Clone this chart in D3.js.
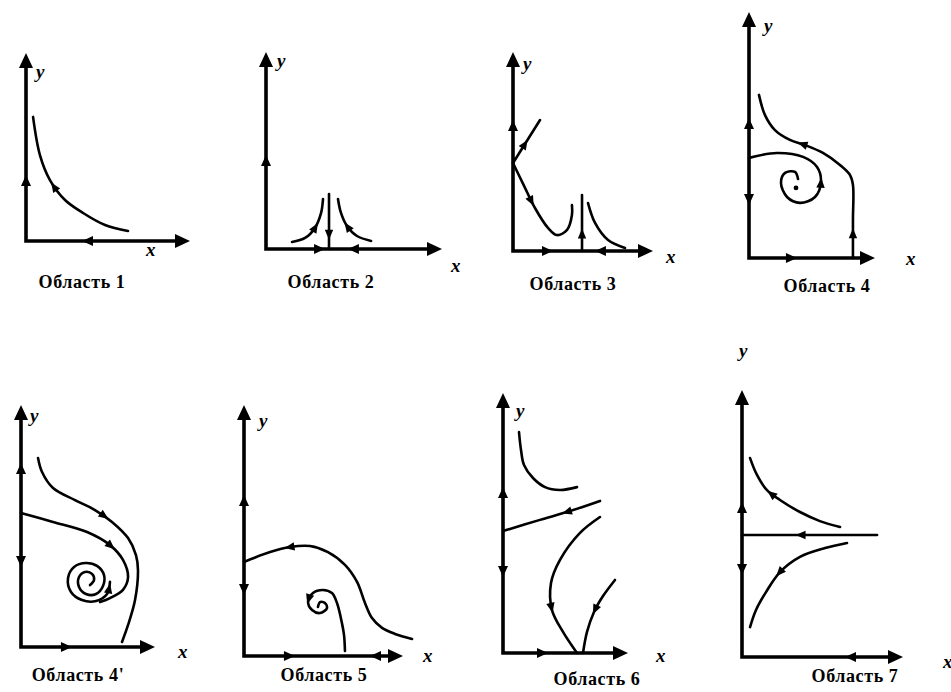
<!DOCTYPE html>
<html>
<head>
<meta charset="utf-8">
<script src="https://cdn.jsdelivr.net/npm/d3@7"></script>
<style>
  body { margin: 0; background: #fff; }
</style>
</head>
<body>
<div id="chart"></div>
<script>
// Phase portraits, one per region. Curve points are in axis units (0..100 on each axis)

const regionNames = ['Область 1', 'Область 2', 'Область 3', 'Область 4',
                     'Область 4\'', 'Область 5', 'Область 6', 'Область 7'];

// Region 1
const region1Curves = [
  [[4.3, 66.0], [8.5, 45.7], [14.6, 32.4], [23.8, 21.8], [34.8, 14.9], [48.2, 8.5], [62.2, 5.3]]
];
const region1CurveArrows = [{curve: 0, at: 0.45, dir: -1}];
const region1AxisArrows = [{axis: 'y', at: 32.4, dir: 1}, {axis: 'x', at: 37.2, dir: -1}];

// Region 2
const region2Curves = [
  [[14.8, 3.6], [22.2, 5.6], [27.8, 10.7], [31.3, 18.3], [32.4, 25.4]],
  [[35.8, 27.9], [35.8, 0]],
  [[40.9, 25.4], [42.6, 18.3], [46.0, 11.7], [51.7, 6.6], [59.7, 4.1]]
];
const region2CurveArrows = [{curve: 0, at: 0.5, dir: 1}, {curve: 1, at: 0.75, dir: 1}, {curve: 2, at: 0.5, dir: -1}];
const region2AxisArrows = [{axis: 'y', at: 45.2, dir: 1}, {axis: 'x', at: 30.7, dir: 1}, {axis: 'x', at: 49.4, dir: -1}];

// Region 3
const region3Curves = [
  [[0, 44.2], [19.3, 65.8]],
  [[0, 44.2], [7.9, 32.7], [15.7, 21.6], [25.0, 11.6], [31.4, 8.0], [38.6, 10.6], [42.1, 18.1], [42.1, 23.1]],
  [[49.3, 28.1], [49.3, 0]],
  [[53.6, 24.1], [58.6, 14.1], [67.9, 5.5], [80.0, 1.5]]
];
const region3CurveArrows = [{curve: 0, at: 0.45, dir: 1}, {curve: 1, at: 0.35, dir: 1}, {curve: 2, at: 0.68, dir: -1}];
const region3AxisArrows = [{axis: 'y', at: 63.3, dir: 1}, {axis: 'x', at: 25.0, dir: 1}, {axis: 'x', at: 62.1, dir: -1}];

// Region 4
const region4Curves = [
  [[7.9, 66.3], [12.7, 58.1], [20.6, 52.0], [32.5, 48.0], [44.4, 45.9], [58.7, 42.7], [72.2, 37.8],
   [80.2, 33.7], [82.5, 29.7], [82.5, 15.4], [82.5, 0]],
  [[0, 40.7], [22.2, 42.7], [42.9, 41.1], [54.0, 37.0], [57.1, 30.9], [52.4, 24.8], [40.5, 22.4],
   [30.2, 24.8], [25.4, 30.5], [28.6, 34.6], [36.5, 35.0], [38.9, 32.1]]
];
const region4CurveArrows = [{curve: 0, at: 0.33, dir: -1}, {curve: 0, at: 0.88, dir: -1}, {curve: 1, at: 0.49, dir: -1}];
const region4AxisArrows = [{axis: 'y', at: 54.9, dir: 1}, {axis: 'y', at: 23.6, dir: -1}, {axis: 'x', at: 34.1, dir: 1}];
const region4Dots = [[37.3, 28.5]];

// Region 4'
const region4bCurves = [
  [[12.7, 78.1], [15.7, 72.3], [23.9, 65.7], [40.3, 60.7], [55.2, 56.6], [67.9, 51.7], [79.9, 45.0],
   [85.8, 38.0], [87.3, 31.8], [85.1, 19.4], [79.9, 9.1], [75.4, 2.1]],
  [[0, 55.4], [23.9, 51.7], [49.3, 47.5], [66.4, 42.1], [76.1, 36.0], [79.9, 28.9], [76.1, 23.6],
   [66.4, 20.2], [59.0, 18.6]],
  [[51.5, 25.6], [54.5, 27.7], [53.0, 30.2], [47.8, 31.0], [43.3, 28.9], [43.3, 24.8], [48.5, 21.9],
   [56.0, 21.9], [61.2, 25.2], [61.9, 29.8], [56.7, 33.5], [48.5, 34.7], [39.6, 33.1], [35.1, 28.5],
   [37.3, 22.7], [45.5, 19.4], [56.0, 19.0], [64.2, 21.9], [66.4, 26.9]]
];
const region4bCurveArrows = [{curve: 0, at: 0.40, dir: 1}, {curve: 1, at: 0.56, dir: 1}, {curve: 2, at: 0.97, dir: 1}];
const region4bAxisArrows = [{axis: 'y', at: 74.0, dir: 1}, {axis: 'y', at: 35.1, dir: -1}, {axis: 'x', at: 34.3, dir: 1}];

// Region 5
const region5Curves = [
  [[105.7, 6.8], [95.0, 8.8], [86.8, 11.2], [80.5, 15.1], [76.1, 21.1], [71.1, 29.5], [63.5, 36.3],
   [52.8, 41.4], [41.5, 43.8], [28.9, 43.4], [16.4, 41.4], [0, 37.5]],
  [[63.5, 2.0], [62.9, 8.4], [61.6, 13.1], [58.5, 21.1], [55.3, 25.1], [49.7, 26.3], [43.4, 25.1],
   [40.3, 21.5], [42.8, 18.3], [47.8, 17.1], [52.2, 19.1], [50.9, 21.1], [47.8, 21.5], [46.5, 19.5]]
];
const region5CurveArrows = [{curve: 0, at: 0.78, dir: 1}, {curve: 1, at: 0.66, dir: 1}];
const region5AxisArrows = [{axis: 'y', at: 62.2, dir: 1}, {axis: 'y', at: 26.3, dir: -1},
                           {axis: 'x', at: 28.9, dir: 1}, {axis: 'x', at: 82.4, dir: -1}];

// Region 6
const region6Curves = [
  [[12.8, 85.0], [14.4, 78.1], [16.8, 72.3], [24.0, 67.3], [33.6, 63.8], [45.6, 62.7], [59.2, 63.8]],
  [[0, 46.9], [29.6, 51.2], [53.6, 54.6], [77.6, 58.5]],
  [[77.6, 52.3], [61.6, 46.2], [45.6, 35.8], [38.4, 26.9], [39.2, 16.5], [48.0, 8.1], [59.2, 0]],
  [[89.6, 28.1], [80.0, 21.9], [72.8, 15.8], [67.2, 8.1], [64.0, 0]]
];
const region6CurveArrows = [{curve: 1, at: 0.65, dir: -1}, {curve: 2, at: 0.68, dir: 1}, {curve: 3, at: 0.45, dir: 1}];
const region6AxisArrows = [{axis: 'y', at: 61.9, dir: 1}, {axis: 'y', at: 31.2, dir: -1}, {axis: 'x', at: 32.0, dir: 1}];

// Region 7
const region7Curves = [
  [[5.0, 74.5], [9.3, 68.2], [15.5, 62.5], [23.6, 58.8], [36.0, 54.3], [48.4, 50.9], [60.9, 48.7]],
  [[0, 45.7], [83.9, 45.7]],
  [[65.2, 42.7], [51.6, 40.8], [36.0, 37.5], [23.6, 31.8], [14.9, 24.3], [8.7, 17.6], [5.0, 11.2]]
];
const region7CurveArrows = [{curve: 0, at: 0.35, dir: -1}, {curve: 1, at: 0.43, dir: -1}, {curve: 2, at: 0.55, dir: 1}];
const region7AxisArrows = [{axis: 'y', at: 56.2, dir: 1}, {axis: 'y', at: 32.6, dir: -1}, {axis: 'x', at: 67.1, dir: -1}];

// Layout of each small plot (pixels): origin, axis tips, label anchors
const panels = [
  {curves: region1Curves, curveArrows: region1CurveArrows, axisArrows: region1AxisArrows, dots: [],
   ox: 26, oy: 241, xt: 190, yt: 53, yLab: [36, 78], xLab: [146, 256], title: [82, 288]},
  {curves: region2Curves, curveArrows: region2CurveArrows, axisArrows: region2AxisArrows, dots: [],
   ox: 266, oy: 249, xt: 442, yt: 52, yLab: [277, 67], xLab: [451, 272], title: [331, 288]},
  {curves: region3Curves, curveArrows: region3CurveArrows, axisArrows: region3AxisArrows, dots: [],
   ox: 513, oy: 251, xt: 653, yt: 52, yLab: [523, 70], xLab: [666, 263], title: [573, 290]},
  {curves: region4Curves, curveArrows: region4CurveArrows, axisArrows: region4AxisArrows, dots: region4Dots,
   ox: 749, oy: 258, xt: 875, yt: 12, yLab: [764, 32], xLab: [906, 265], title: [827, 292]},
  {curves: region4bCurves, curveArrows: region4bCurveArrows, axisArrows: region4bAxisArrows, dots: [],
   ox: 21, oy: 647, xt: 155, yt: 405, yLab: [30, 422], xLab: [178, 658], title: [78, 681]},
  {curves: region5Curves, curveArrows: region5CurveArrows, axisArrows: region5AxisArrows, dots: [],
   ox: 244, oy: 656, xt: 403, yt: 405, yLab: [259, 427], xLab: [423, 662], title: [324, 681]},
  {curves: region6Curves, curveArrows: region6CurveArrows, axisArrows: region6AxisArrows, dots: [],
   ox: 503, oy: 653, xt: 628, yt: 393, yLab: [516, 417], xLab: [656, 662], title: [597, 685]},
  {curves: region7Curves, curveArrows: region7CurveArrows, axisArrows: region7AxisArrows, dots: [],
   ox: 742, oy: 657, xt: 903, yt: 390, yLab: [739, 357], xLab: [943, 668], title: [855, 682]}
];

const svg = d3.select('#chart').append('svg')
  .attr('width', 951)
  .attr('height', 692)
  .style('background', '#fff');

const serif = '"Liberation Serif", "DejaVu Serif", serif';

// filled triangle with its tip at (x, y) pointing along angle a
function arrowHead(g, x, y, a, len, half) {
  const bx = x - len * Math.cos(a), by = y - len * Math.sin(a);
  const px = -Math.sin(a) * half, py = Math.cos(a) * half;
  g.append('path')
    .attr('d', `M${x},${y}L${bx + px},${by + py}L${bx - px},${by - py}Z`)
    .attr('fill', '#000');
}

panels.forEach((p, i) => {
  const g = svg.append('g').attr('class', 'panel');
  const x = d3.scaleLinear().domain([0, 100]).range([p.ox, p.xt]);
  const y = d3.scaleLinear().domain([0, 100]).range([p.oy, p.yt]);

  // axes
  g.append('path')
    .attr('d', `M${x(0)},${y(100) + 10}L${x(0)},${y(0)}L${x(100) - 10},${y(0)}`)
    .attr('fill', 'none')
    .attr('stroke', '#000')
    .attr('stroke-width', 3.6)
    .attr('stroke-linejoin', 'miter');
  arrowHead(g, x(0), y(100), -Math.PI / 2, 15, 7);
  arrowHead(g, x(100), y(0), 0, 15, 7);

  // arrows sitting on the axes
  p.axisArrows.forEach(d => {
    if (d.axis === 'y') {
      const cy = y(d.at);
      arrowHead(g, x(0), cy - d.dir * 5, d.dir > 0 ? -Math.PI / 2 : Math.PI / 2, 11, 5);
    } else {
      const cx = x(d.at);
      arrowHead(g, cx + d.dir * 5, y(0), d.dir > 0 ? 0 : Math.PI, 11, 5);
    }
  });

  // trajectories
  const line = d3.line()
    .x(d => x(d[0]))
    .y(d => y(d[1]))
    .curve(d3.curveCatmullRom.alpha(0.5));

  const paths = p.curves.map(c => g.append('path')
    .attr('d', line(c))
    .attr('fill', 'none')
    .attr('stroke', '#000')
    .attr('stroke-width', 2.6)
    .attr('stroke-linecap', 'round')
    .node());

  p.curveArrows.forEach(d => {
    const node = paths[d.curve];
    const L = node.getTotalLength();
    const s = d.at * L;
    const a0 = node.getPointAtLength(Math.max(0, s - 2));
    const a1 = node.getPointAtLength(Math.min(L, s + 2));
    let ang = Math.atan2(a1.y - a0.y, a1.x - a0.x);
    if (d.dir < 0) ang += Math.PI;
    const c = node.getPointAtLength(s);
    arrowHead(g, c.x + Math.cos(ang) * 4.5, c.y + Math.sin(ang) * 4.5, ang, 10, 4.2);
  });

  p.dots.forEach(d => {
    g.append('circle')
      .attr('cx', x(d[0]))
      .attr('cy', y(d[1]))
      .attr('r', 2.4)
      .attr('fill', '#000');
  });

  // axis names
  g.append('text')
    .attr('x', p.yLab[0])
    .attr('y', p.yLab[1])
    .attr('font-family', serif)
    .attr('font-style', 'italic')
    .attr('font-weight', 'bold')
    .attr('font-size', 19)
    .text('y');
  g.append('text')
    .attr('x', p.xLab[0])
    .attr('y', p.xLab[1])
    .attr('font-family', serif)
    .attr('font-style', 'italic')
    .attr('font-weight', 'bold')
    .attr('font-size', 19)
    .text('x');

  // region caption
  g.append('text')
    .attr('x', p.title[0])
    .attr('y', p.title[1])
    .attr('text-anchor', 'middle')
    .attr('font-family', serif)
    .attr('font-weight', 'bold')
    .attr('font-size', 18)
    .attr('letter-spacing', 0.6)
    .text(regionNames[i]);
});
</script>
</body>
</html>
